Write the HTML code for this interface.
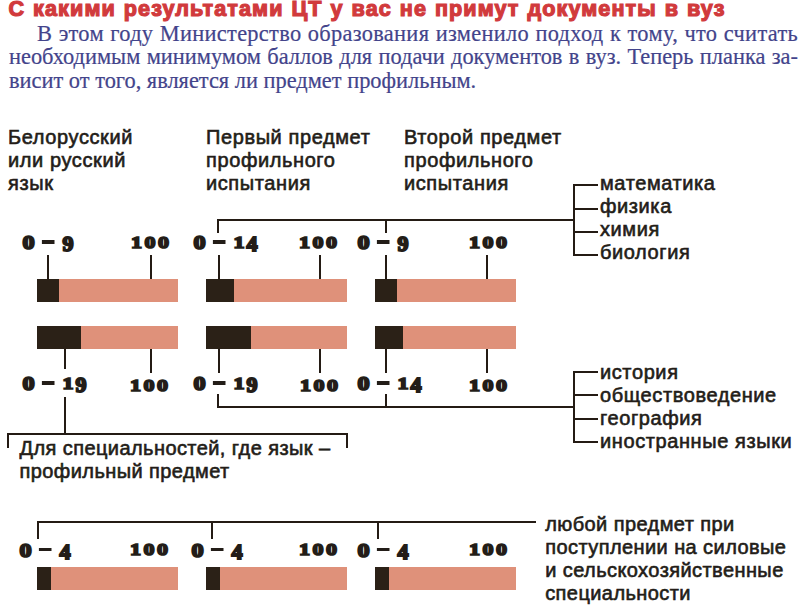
<!DOCTYPE html>
<html><head><meta charset="utf-8"><style>
html,body{margin:0;padding:0;background:#fff}
body{width:800px;height:614px;position:relative;overflow:hidden}
.r{position:absolute}
.n,.h,.t,.p{position:absolute;white-space:nowrap}
.t{font:bold 21.6px/26px "Liberation Sans",sans-serif;color:#d13a3c;left:8.5px;top:-4px;letter-spacing:1.1px;word-spacing:0.8px;-webkit-text-stroke:1.2px #d13a3c}
.p{font:22.4px/23.6px "Liberation Serif",serif;color:#43448b;left:9px;width:789px;top:21.6px;letter-spacing:0.3px;-webkit-text-stroke:0.2px #43448b}
.p div{text-align:justify;text-align-last:justify;white-space:nowrap}
.p div.last{text-align-last:left;letter-spacing:0}
.h{font:20px/23px "Liberation Sans",sans-serif;color:#231d18;-webkit-text-stroke:0.6px #231d18;letter-spacing:0.6px}
.n{font:bold 17.5px/20px "Liberation Serif",serif;color:#231d18;-webkit-text-stroke:1.6px #231d18;transform:scaleX(1.26);transform-origin:0 0;letter-spacing:1.55px;white-space:pre}
.n i{display:inline-block;width:9.9px;height:3.3px;background:#231d18;vertical-align:0.25em;margin:0 6px 0 5.1px}
.n u{display:inline-block;text-decoration:none;transform:scale(1.1,1.07);transform-origin:35% 100%;vertical-align:-1px}
.n b{display:inline-block;font-weight:bold;transform:scaleY(1.2);transform-origin:0 0;position:relative;top:0px}
</style></head><body>
<div class="t">С какими результатами ЦТ у вас не примут документы в вуз</div>
<div class="p"><div style="padding-left:28px">В этом году Министерство образования изменило подход к тому, что считать</div><div style="letter-spacing:0">необходимым минимумом баллов для подачи документов в вуз. Теперь планка за-</div><div class="last">висит от того, является ли предмет профильным.</div></div>
<div class="r" style="left:37px;top:279px;width:140.5px;height:23.2px;background:#df917a"></div>
<div class="r" style="left:37px;top:279px;width:21.5px;height:23.2px;background:#2b2117"></div>
<div class="r" style="left:206px;top:279px;width:140.5px;height:23.2px;background:#df917a"></div>
<div class="r" style="left:206px;top:279px;width:28px;height:23.2px;background:#2b2117"></div>
<div class="r" style="left:375px;top:279px;width:140.5px;height:23.2px;background:#df917a"></div>
<div class="r" style="left:375px;top:279px;width:22px;height:23.2px;background:#2b2117"></div>
<div class="r" style="left:37px;top:326.1px;width:140.5px;height:22.9px;background:#df917a"></div>
<div class="r" style="left:37px;top:326.1px;width:44.1px;height:22.9px;background:#2b2117"></div>
<div class="r" style="left:206px;top:326.1px;width:140.5px;height:22.9px;background:#df917a"></div>
<div class="r" style="left:206px;top:326.1px;width:44.7px;height:22.9px;background:#2b2117"></div>
<div class="r" style="left:375px;top:326.1px;width:140.5px;height:22.9px;background:#df917a"></div>
<div class="r" style="left:375px;top:326.1px;width:28.3px;height:22.9px;background:#2b2117"></div>
<div class="r" style="left:37px;top:567.3px;width:140.5px;height:23.1px;background:#df917a"></div>
<div class="r" style="left:37px;top:567.3px;width:13.8px;height:23.1px;background:#2b2117"></div>
<div class="r" style="left:206px;top:567.3px;width:140.5px;height:23.1px;background:#df917a"></div>
<div class="r" style="left:206px;top:567.3px;width:14px;height:23.1px;background:#2b2117"></div>
<div class="r" style="left:375px;top:567.3px;width:140.5px;height:23.1px;background:#df917a"></div>
<div class="r" style="left:375px;top:567.3px;width:13.7px;height:23.1px;background:#2b2117"></div>
<div class="r" style="left:47px;top:255.3px;width:2px;height:23.7px;background:#241b14"></div>
<div class="r" style="left:150px;top:255.3px;width:2px;height:23.7px;background:#241b14"></div>
<div class="r" style="left:218px;top:255.3px;width:2px;height:23.7px;background:#241b14"></div>
<div class="r" style="left:319px;top:255.3px;width:2px;height:23.7px;background:#241b14"></div>
<div class="r" style="left:385px;top:255.3px;width:2px;height:23.7px;background:#241b14"></div>
<div class="r" style="left:486px;top:255.3px;width:2px;height:23.7px;background:#241b14"></div>
<div class="r" style="left:64px;top:349px;width:2px;height:20.3px;background:#241b14"></div>
<div class="r" style="left:150px;top:349px;width:2px;height:23.5px;background:#241b14"></div>
<div class="r" style="left:218px;top:349px;width:2px;height:23.5px;background:#241b14"></div>
<div class="r" style="left:319px;top:349px;width:2px;height:23.5px;background:#241b14"></div>
<div class="r" style="left:385px;top:349px;width:2px;height:23.5px;background:#241b14"></div>
<div class="r" style="left:486px;top:349px;width:2px;height:23.5px;background:#241b14"></div>
<div class="r" style="left:216.8px;top:218.9px;width:358.0px;height:2.0px;background:#241b14"></div>
<div class="r" style="left:216.8px;top:218.9px;width:2.0px;height:13.9px;background:#241b14"></div>
<div class="r" style="left:385.2px;top:218.9px;width:2.0px;height:13.9px;background:#241b14"></div>
<div class="r" style="left:572.8px;top:184.1px;width:2.0px;height:72.2px;background:#241b14"></div>
<div class="r" style="left:572.8px;top:184.1px;width:25.0px;height:2.0px;background:#241b14"></div>
<div class="r" style="left:572.8px;top:207.8px;width:25.0px;height:2.0px;background:#241b14"></div>
<div class="r" style="left:572.8px;top:231px;width:25.0px;height:2px;background:#241b14"></div>
<div class="r" style="left:572.8px;top:254.3px;width:25.0px;height:2.0px;background:#241b14"></div>
<div class="r" style="left:64.2px;top:396.5px;width:2.0px;height:38.0px;background:#241b14"></div>
<div class="r" style="left:6.8px;top:432.6px;width:340.8px;height:2.0px;background:#241b14"></div>
<div class="r" style="left:6.8px;top:432.6px;width:2.0px;height:15.4px;background:#241b14"></div>
<div class="r" style="left:345.6px;top:432.6px;width:2.0px;height:15.4px;background:#241b14"></div>
<div class="r" style="left:216.7px;top:394px;width:2.0px;height:13.9px;background:#241b14"></div>
<div class="r" style="left:385.2px;top:394px;width:2.0px;height:13.9px;background:#241b14"></div>
<div class="r" style="left:216.7px;top:405.9px;width:358.1px;height:2.0px;background:#241b14"></div>
<div class="r" style="left:572.8px;top:370.5px;width:2.0px;height:72.5px;background:#241b14"></div>
<div class="r" style="left:572.8px;top:370.5px;width:25.0px;height:2.0px;background:#241b14"></div>
<div class="r" style="left:572.8px;top:394.2px;width:25.0px;height:2.0px;background:#241b14"></div>
<div class="r" style="left:572.8px;top:418.4px;width:25.0px;height:2.0px;background:#241b14"></div>
<div class="r" style="left:572.8px;top:441px;width:25.0px;height:2px;background:#241b14"></div>
<div class="r" style="left:36.9px;top:521.1px;width:499.2px;height:2.0px;background:#241b14"></div>
<div class="r" style="left:36.9px;top:521.1px;width:2.0px;height:18.2px;background:#241b14"></div>
<div class="r" style="left:210.9px;top:521.1px;width:2.0px;height:18.2px;background:#241b14"></div>
<div class="r" style="left:377.3px;top:521.1px;width:2.0px;height:18.2px;background:#241b14"></div>
<div class="n" style="left:23px;top:232px;"><u>0</u><i></i><b>9</b></div>
<div class="n" style="left:130.8px;top:232px;letter-spacing:1.95px">100</div>
<div class="n" style="left:193.6px;top:232px;"><u>0</u><i></i>1<b>4</b></div>
<div class="n" style="left:299.4px;top:232px;letter-spacing:1.95px">100</div>
<div class="n" style="left:358px;top:232px;"><u>0</u><i></i><b>9</b></div>
<div class="n" style="left:468.79999999999995px;top:232px;letter-spacing:1.95px">100</div>
<div class="n" style="left:23.3px;top:373px;"><u>0</u><i></i>1<b>9</b></div>
<div class="n" style="left:130.4px;top:375px;letter-spacing:1.95px">100</div>
<div class="n" style="left:193.6px;top:373px;"><u>0</u><i></i>1<b>9</b></div>
<div class="n" style="left:299.79999999999995px;top:375px;letter-spacing:1.95px">100</div>
<div class="n" style="left:358.1px;top:373px;"><u>0</u><i></i>1<b>4</b></div>
<div class="n" style="left:468.79999999999995px;top:375px;letter-spacing:1.95px">100</div>
<div class="n" style="left:19.5px;top:539.5px;"><u>0</u><i></i><b>4</b></div>
<div class="n" style="left:130.20000000000002px;top:539.3px;letter-spacing:1.95px">100</div>
<div class="n" style="left:191.7px;top:539.5px;"><u>0</u><i></i><b>4</b></div>
<div class="n" style="left:299.4px;top:539.3px;letter-spacing:1.95px">100</div>
<div class="n" style="left:357.8px;top:539.5px;"><u>0</u><i></i><b>4</b></div>
<div class="n" style="left:468.79999999999995px;top:539.3px;letter-spacing:1.95px">100</div>
<div class="h" style="left:8px;top:126px;">Белорусский<br>или русский<br>язык</div>
<div class="h" style="left:206px;top:126px;">Первый предмет<br>профильного<br>испытания</div>
<div class="h" style="left:404px;top:126px;">Второй предмет<br>профильного<br>испытания</div>
<div class="h" style="left:600px;top:172px;">математика<br>физика<br>химия<br>биология</div>
<div class="h" style="left:600px;top:361px;">история<br>обществоведение<br>география<br>иностранные языки</div>
<div class="h" style="left:19.5px;top:437px;letter-spacing:0.42px">Для специальностей, где язык –<br>профильный предмет</div>
<div class="h" style="left:545.2px;top:513px;letter-spacing:0.42px">любой предмет при<br>поступлении на силовые<br>и сельскохозяйственные<br>специальности</div>
</body></html>
